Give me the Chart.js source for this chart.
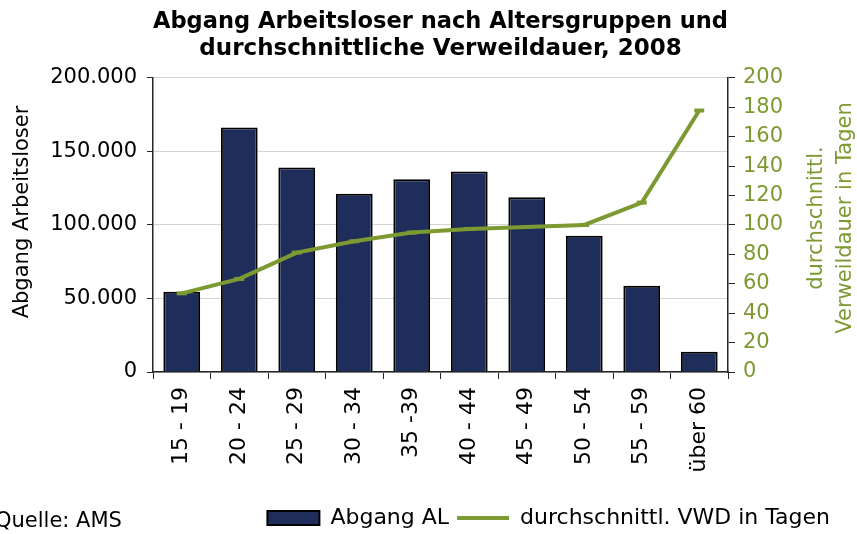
<!DOCTYPE html>
<html lang="de">
<head>
<meta charset="UTF-8">
<title>Abgang Arbeitsloser nach Altersgruppen</title>
<style>
  body { margin: 0; padding: 0; background: #fff; }
  #wrap { width: 857px; height: 534px; }
</style>
</head>
<body>
<div id="wrap"><canvas id="chart"></canvas></div>
<script src="https://cdn.jsdelivr.net/npm/chart.js"></script>
<script>
// Altersgruppen
var ageGroups = ['15 - 19', '20 - 24', '25 - 29', '30 - 34', '35 -39', '40 - 44', '45 - 49', '50 - 54', '55 - 59', 'über 60'];
// Abgang Arbeitsloser (Personen)
var abgangAL = [54600, 166200, 139000, 121300, 131100, 136300, 118800, 92700, 58700, 13800];
// durchschnittliche Verweildauer in Tagen
var verweildauer = [53.5, 63.3, 81.2, 88.9, 94.8, 97.3, 98.6, 100, 115.2, 177.8];
// Achsen
var leftMax = 200000, leftStep = 50000;
var rightMax = 200, rightStep = 20;

var navy = '#1f2d5a';
var olive = '#7d9a32';
var axisColor = '#262626';

function thousands(v) {
    return String(v).replace(/\B(?=(\d{3})+(?!\d))/g, '.');
}

// axis titles and source note drawn by hand (right title reads bottom-up)
var extraText = {
    id: 'extraText',
    afterDraw: function (chart) {
        var ctx = chart.ctx;
        ctx.save();
        ctx.font = '21px "DejaVu Sans"';
        ctx.textAlign = 'center';
        ctx.textBaseline = 'middle';

        ctx.fillStyle = '#000';
        ctx.save();
        ctx.translate(23, 212);
        ctx.rotate(-Math.PI / 2);
        ctx.fillText('Abgang Arbeitsloser', 0, 0);
        ctx.restore();

        ctx.fillStyle = olive;
        ctx.save();
        ctx.translate(831, 218);
        ctx.rotate(-Math.PI / 2);
        ctx.fillText('durchschnittl.', 0, -14.5);
        ctx.fillText('Verweildauer in Tagen', 0, 14.5);
        ctx.restore();

        ctx.fillStyle = '#000';
        ctx.textAlign = 'left';
        ctx.fillText('Quelle: AMS', -5, 522);
        ctx.restore();
    }
};

var ctx = document.getElementById('chart').getContext('2d');
var chart = new Chart(ctx, {
    data: {
        labels: ageGroups,
        datasets: [{
            type: 'bar',
            label: 'Abgang AL',
            data: abgangAL,
            yAxisID: 'y',
            backgroundColor: navy,
            borderColor: '#000',
            borderWidth: 2,
            barPercentage: 0.64,
            categoryPercentage: 1,
            pointStyle: 'rect',
            order: 1
        }, {
            type: 'line',
            label: 'durchschnittl. VWD in Tagen',
            data: verweildauer,
            yAxisID: 'y1',
            borderColor: olive,
            borderWidth: 4,
            tension: 0,
            pointStyle: 'line',
            pointRadius: 5,
            pointBorderWidth: 4,
            pointBorderColor: olive,
            pointBackgroundColor: olive,
            order: 0
        }]
    },
    options: {
        responsive: true,
        maintainAspectRatio: false,
        animation: false,
        layout: { padding: { left: 0, right: 19, top: 0, bottom: -5 } },
        plugins: {
            title: {
                display: true,
                fullSize: false,
                text: ['Abgang Arbeitsloser nach Altersgruppen und', 'durchschnittliche Verweildauer, 2008'],
                color: '#000',
                font: { family: '"DejaVu Sans"', size: 23, weight: 'bold', lineHeight: 1.15 },
                padding: { top: 9, bottom: 16 }
            },
            legend: {
                position: 'bottom',
                align: 'end',
                labels: {
                    usePointStyle: true,
                    pointStyleWidth: 52,
                    boxHeight: 14,
                    padding: 8,
                    color: '#000',
                    font: { family: '"DejaVu Sans"', size: 22 },
                    sort: function (a, b) { return a.datasetIndex - b.datasetIndex; }
                }
            },
            tooltip: { enabled: false },
            extraText: {}
        },
        scales: {
            x: {
                afterFit: function (scale) { scale.height = 127; },
                grid: {
                    drawOnChartArea: false,
                    tickLength: 7,
                    tickColor: axisColor
                },
                border: { color: axisColor, width: 1.5 },
                ticks: {
                    maxRotation: 90,
                    minRotation: 90,
                    padding: 8,
                    color: '#000',
                    font: { family: '"DejaVu Sans"', size: 22 }
                }
            },
            y: {
                position: 'left',
                min: 0,
                max: leftMax,
                afterFit: function (scale) { scale.width = 153; },
                grid: {
                    color: '#d4d4d4',
                    tickColor: axisColor,
                    tickLength: 6
                },
                border: { color: axisColor, width: 1.5 },
                ticks: {
                    stepSize: leftStep,
                    padding: 10,
                    color: '#000',
                    font: { family: '"DejaVu Sans"', size: 21 },
                    callback: function (v) { return thousands(v); }
                }
            },
            y1: {
                position: 'right',
                min: 0,
                max: rightMax,
                afterFit: function (scale) { scale.width = 110; },
                grid: {
                    drawOnChartArea: false,
                    tickColor: axisColor,
                    tickLength: 7
                },
                border: { color: axisColor, width: 1.5 },
                ticks: {
                    stepSize: rightStep,
                    padding: 8,
                    color: olive,
                    font: { family: '"DejaVu Sans"', size: 21 }
                }
            }
        }
    },
    plugins: [extraText]
});
</script>
</body>
</html>
